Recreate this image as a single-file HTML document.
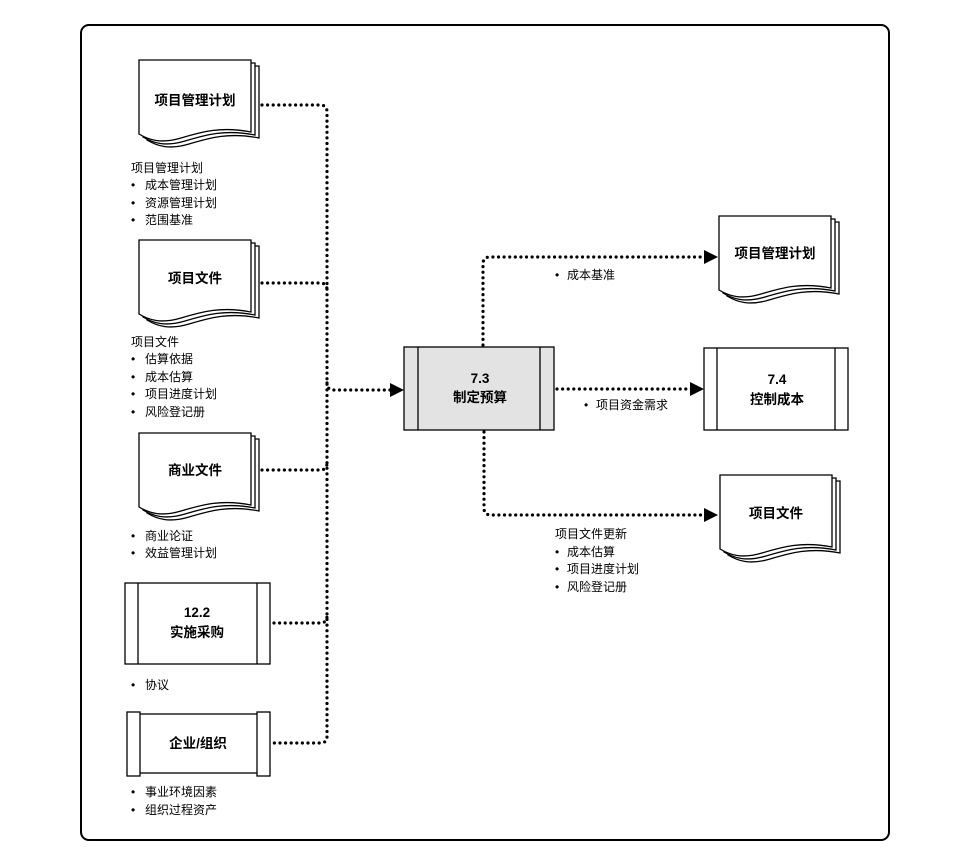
<!DOCTYPE html>
<html><head><meta charset="utf-8"><style>
html,body{margin:0;padding:0;background:#fff}
svg{display:block}
text{font-family:"Liberation Sans","Noto Sans CJK SC",sans-serif;fill:#000}
.t{font-size:12px}
.b{font-size:13.5px;font-weight:bold;text-anchor:middle}
.d{fill:none;stroke:#000;stroke-width:3.2;stroke-linecap:round;stroke-dasharray:0 5.6}
.s{fill:#fff;stroke:#000;stroke-width:1.3}
</style></head><body>
<svg width="964" height="854" viewBox="0 0 964 854" xmlns="http://www.w3.org/2000/svg">
<defs>
<g id="doc">
<path class="s" d="M8,6 H120 V78 C90,72 70,78 50,84 C30,90 18,86 8,80 Z"/>
<path class="s" d="M4,3 H116 V75 C86,69 66,75 46,81 C26,87 14,83 4,77 Z"/>
<path class="s" d="M0,0 H112 V72 C82,66 62,72 42,78 C22,84 10,80 0,74 Z"/>
</g>
</defs>
<rect x="81" y="25" width="808" height="815" rx="8" fill="none" stroke="#000" stroke-width="2"/>

<use href="#doc" x="139" y="60"/>
<text class="b" x="195" y="105">项目管理计划</text>
<use href="#doc" x="139" y="240"/>
<text class="b" x="195" y="283">项目文件</text>
<use href="#doc" x="139" y="433"/>
<text class="b" x="195" y="475">商业文件</text>

<rect class="s" x="125" y="583" width="145" height="81"/>
<line x1="138" y1="583" x2="138" y2="664" stroke="#000" stroke-width="1.3"/>
<line x1="257" y1="583" x2="257" y2="664" stroke="#000" stroke-width="1.3"/>
<text class="b" x="197" y="617">12.2</text>
<text class="b" x="197" y="637">实施采购</text>

<rect class="s" x="138" y="714" width="120" height="59"/>
<rect class="s" x="127" y="712" width="13" height="64"/>
<rect class="s" x="257" y="712" width="13" height="64"/>
<text class="b" x="198" y="748">企业/组织</text>

<g class="t">
<text x="131" y="172">项目管理计划</text>
<text x="131" y="189">•</text><text x="145" y="189">成本管理计划</text>
<text x="131" y="207">•</text><text x="145" y="207">资源管理计划</text>
<text x="131" y="224">•</text><text x="145" y="224">范围基准</text>
<text x="131" y="346">项目文件</text>
<text x="131" y="363">•</text><text x="145" y="363">估算依据</text>
<text x="131" y="381">•</text><text x="145" y="381">成本估算</text>
<text x="131" y="398">•</text><text x="145" y="398">项目进度计划</text>
<text x="131" y="416">•</text><text x="145" y="416">风险登记册</text>
<text x="131" y="540">•</text><text x="145" y="540">商业论证</text>
<text x="131" y="557">•</text><text x="145" y="557">效益管理计划</text>
<text x="131" y="689">•</text><text x="145" y="689">协议</text>
<text x="131" y="796">•</text><text x="145" y="796">事业环境因素</text>
<text x="131" y="814">•</text><text x="145" y="814">组织过程资产</text>
</g>

<path class="d" d="M262,105 H320 Q327,105 327,112 V737 Q327,743 320,743 H274"/>
<path class="d" d="M262,283 H320 Q327,283 327,290"/>
<path class="d" d="M262,470 H320 Q327,470 327,463"/>
<path class="d" d="M274,623 H320 Q327,623 327,616"/>
<path class="d" d="M327,383 Q327,390 334,390 H392"/>
<polygon points="390,383 404,390 390,397" fill="#000"/>

<rect x="404" y="347" width="150" height="83" fill="#e3e3e3" stroke="#000" stroke-width="1.3"/>
<line x1="418" y1="347" x2="418" y2="430" stroke="#000" stroke-width="1.3"/>
<line x1="540" y1="347" x2="540" y2="430" stroke="#000" stroke-width="1.3"/>
<text class="b" x="480" y="383">7.3</text>
<text class="b" x="480" y="402">制定预算</text>

<rect class="s" x="704" y="348" width="144" height="82"/>
<line x1="717" y1="348" x2="717" y2="430" stroke="#000" stroke-width="1.3"/>
<line x1="835" y1="348" x2="835" y2="430" stroke="#000" stroke-width="1.3"/>
<text class="b" x="777" y="384">7.4</text>
<text class="b" x="777" y="404">控制成本</text>

<use href="#doc" x="719" y="216"/>
<text class="b" x="775" y="258">项目管理计划</text>
<use href="#doc" x="720" y="475"/>
<text class="b" x="776" y="518">项目文件</text>

<path class="d" d="M483,345 V264 Q483,257 490,257 H706"/>
<polygon points="704,250 718,257 704,264" fill="#000"/>
<path class="d" d="M557,389 H692"/>
<polygon points="690,382 704,389 690,396" fill="#000"/>
<path class="d" d="M484,432 V508 Q484,515 491,515 H706"/>
<polygon points="704,508 718,515 704,522" fill="#000"/>

<g class="t">
<text x="555" y="279">•</text><text x="567" y="279">成本基准</text>
<text x="584" y="409">•</text><text x="596" y="409">项目资金需求</text>
<text x="555" y="538">项目文件更新</text>
<text x="555" y="556">•</text><text x="567" y="556">成本估算</text>
<text x="555" y="573">•</text><text x="567" y="573">项目进度计划</text>
<text x="555" y="591">•</text><text x="567" y="591">风险登记册</text>
</g>
</svg>
</body></html>
